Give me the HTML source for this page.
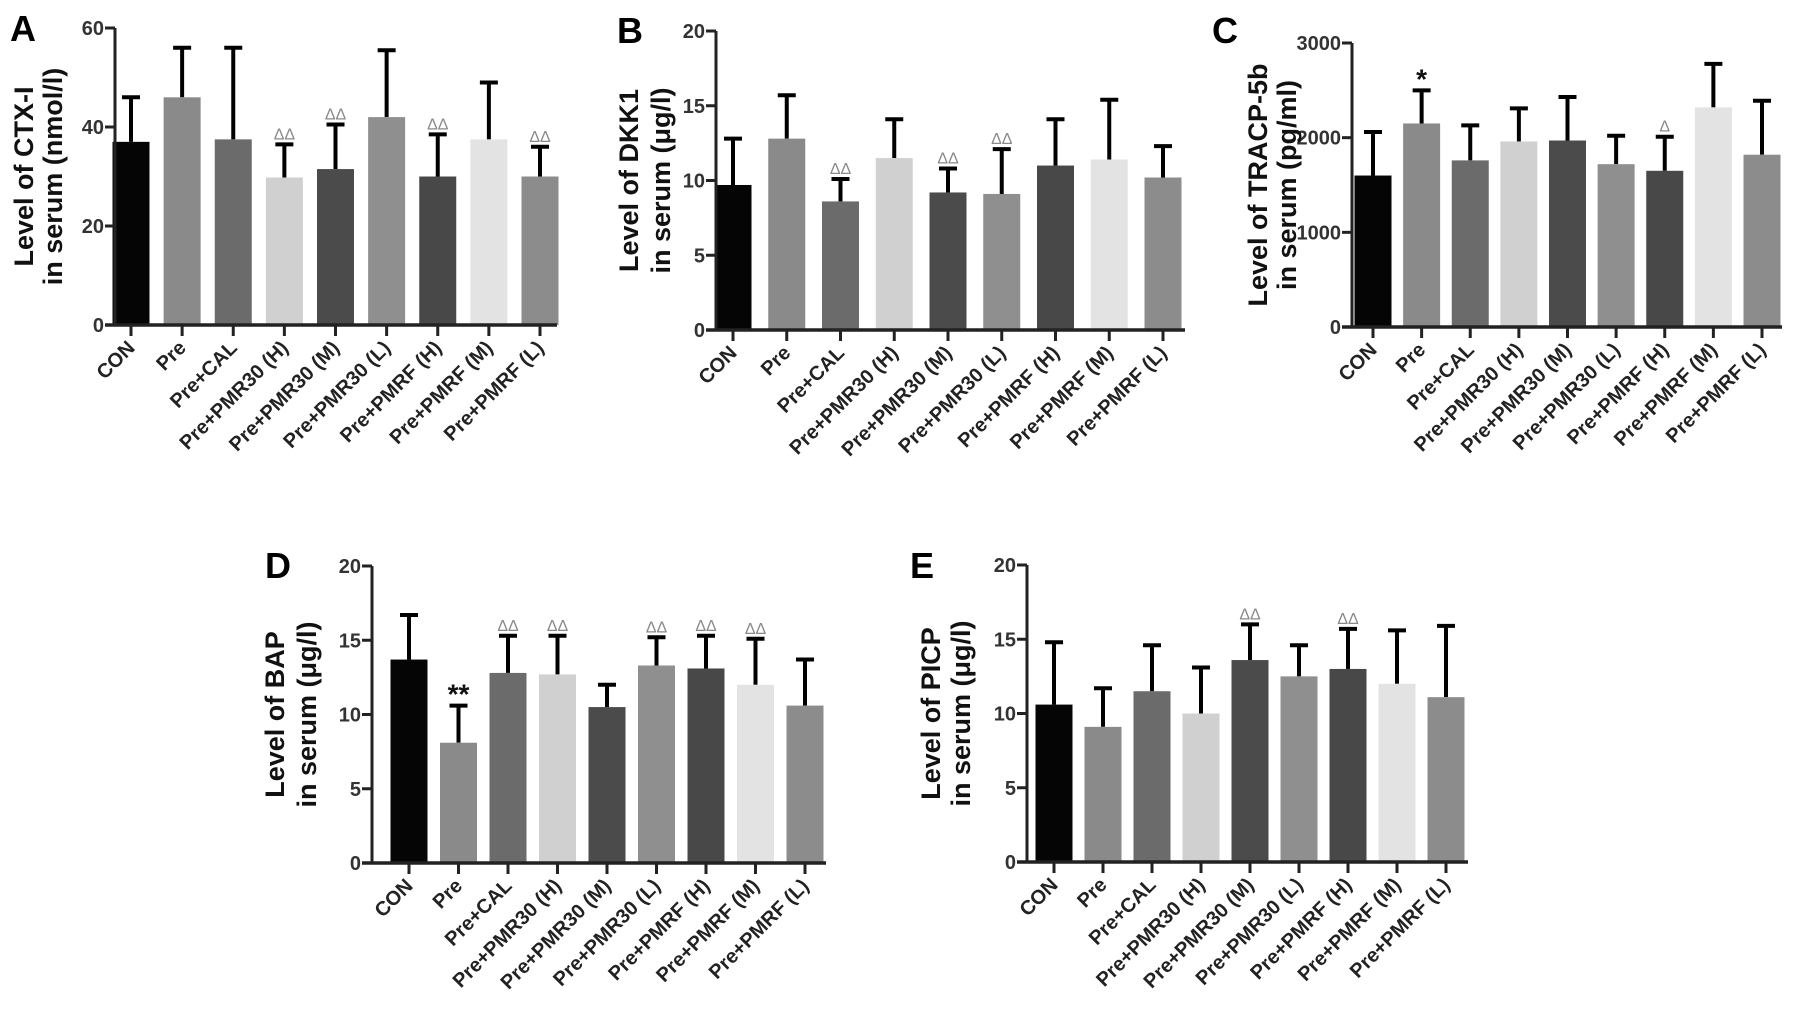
<!DOCTYPE html>
<html><head><meta charset="utf-8"><style>
html,body{margin:0;padding:0;background:#fff;}
svg{display:block;font-family:"Liberation Sans",Arial,sans-serif;font-weight:bold;}
</style></head><body>
<svg id="fig" width="1795" height="1012" viewBox="0 0 1795 1012" xmlns="http://www.w3.org/2000/svg"></svg>
<script>
const categories = ["CON","Pre","Pre+CAL","Pre+PMR30 (H)","Pre+PMR30 (M)","Pre+PMR30 (L)","Pre+PMRF (H)","Pre+PMRF (M)","Pre+PMRF  (L)"];
const barColors = ["#050505","#8a8a8a","#6b6b6b","#d0d0d0","#4b4b4b","#8f8f8f","#484848","#e3e3e3","#8c8c8c"];

const ctxMeans = [37,46,37.5,29.8,31.5,42,30,37.5,30];
const ctxErr   = [46,56,56,36.5,40.5,55.5,38.5,49,36];
const ctxMarks = ["","","","ΔΔ","ΔΔ","","ΔΔ","","ΔΔ"];
const ctxTicks = [0,20,40,60];

const dkkMeans = [9.7,12.8,8.6,11.5,9.2,9.1,11,11.4,10.2];
const dkkErr   = [12.8,15.7,10.1,14.1,10.8,12.1,14.1,15.4,12.3];
const dkkMarks = ["","","ΔΔ","","ΔΔ","ΔΔ","","",""];
const dkkTicks = [0,5,10,15,20];

const tracpMeans = [1600,2150,1760,1960,1970,1720,1650,2320,1820];
const tracpErr   = [2060,2500,2130,2310,2430,2020,2010,2780,2390];
const tracpMarks = ["","*","","","","","Δ","",""];
const tracpTicks = [0,1000,2000,3000];

const bapMeans = [13.7,8.1,12.8,12.7,10.5,13.3,13.1,12,10.6];
const bapErr   = [16.7,10.6,15.3,15.3,12,15.2,15.3,15.1,13.7];
const bapMarks = ["","**","ΔΔ","ΔΔ","","ΔΔ","ΔΔ","ΔΔ",""];
const bapTicks = [0,5,10,15,20];

const picpMeans = [10.6,9.1,11.5,10,13.6,12.5,13,12,11.1];
const picpErr   = [14.8,11.7,14.6,13.1,16,14.6,15.7,15.6,15.9];
const picpMarks = ["","","","","ΔΔ","","ΔΔ","",""];
const picpTicks = [0,5,10,15,20];

const NS="http://www.w3.org/2000/svg";
const svg=document.getElementById('fig');
function mk(tag,attrs,parent,text){const e=document.createElementNS(NS,tag);for(const k in attrs)e.setAttribute(k,attrs[k]);if(text!==undefined)e.textContent=text;(parent||svg).appendChild(e);return e;}

function panel(o){
  const g=mk('g',{});
  
  
  const ymax=o.ticks[o.ticks.length-1];
  const yS=v=>o.y0-(v/ymax)*(o.y0-o.yTop);
  const pitch=(o.cLast-o.c0)/(categories.length-1);
  const xS=i=>o.c0+i*pitch;
  const bw=37;
  const L=mk('text',{x:o.lx,y:o.ly,'font-size':36,fill:'#000'},g,o.letter);
  
  
  o.means.forEach((m,i)=>{
    const cx=xS(i);
    const eb=mk('g',{},g);
    
    
    mk('line',{x1:cx,x2:cx,y1:yS(m),y2:yS(o.err[i]),stroke:'#000','stroke-width':4},eb);
    mk('line',{x1:cx-9,x2:cx+9,y1:yS(o.err[i]),y2:yS(o.err[i]),stroke:'#000','stroke-width':4},eb);
    const r=mk('rect',{x:cx-bw/2,y:yS(m),width:bw,height:o.y0-yS(m),fill:barColors[i]},g);
    
    
    if(o.marks[i]){
      const star=o.marks[i].indexOf('*')>=0;
      const t=mk('text',{x:cx,y:yS(o.err[i])-(star?2:5),'text-anchor':'middle','font-size':star?28:16,fill:star?'#111':'#8a8a8a','font-weight':star?'bold':'normal'},g,o.marks[i]);
      
      
    }
    mk('line',{x1:cx,x2:cx,y1:o.y0,y2:o.y0+11,stroke:'#222','stroke-width':3},g);
    const xl=mk('text',{x:0,y:0,'text-anchor':'end','font-size':20,fill:'#222',transform:`translate(${cx+5},${o.y0+24}) rotate(-45)`},g,categories[i]);
    
    
  });
  const ya=mk('line',{x1:o.ax,x2:o.ax,y1:o.yTop,y2:o.y0+1.5,stroke:'#222','stroke-width':3},g);
  
  
  const xa=mk('line',{x1:o.ax-10,x2:o.xEnd,y1:o.y0,y2:o.y0,stroke:'#222','stroke-width':3.5},g);
  
  
  o.ticks.forEach(t=>{
    mk('line',{x1:o.ax-10,x2:o.ax,y1:yS(t),y2:yS(t),stroke:'#222','stroke-width':3},g);
    const tl=mk('text',{x:o.ax-11,y:yS(t)+7,'text-anchor':'end','font-size':20,fill:'#333'},g,String(t));
    
    
  });
  const cy=(o.y0+o.yTop)/2;
  const t1=mk('text',{x:0,y:0,'text-anchor':'middle','font-size':27,fill:'#111',transform:`translate(${o.t1x+10},${cy}) rotate(-90)`},g,o.title1);
  
  
  const t2=mk('text',{x:0,y:0,'text-anchor':'middle','font-size':27,fill:'#111',transform:`translate(${o.t2x+10},${cy}) rotate(-90)`},g,o.title2);
  
  
}

panel({letter:'A',lx:10,ly:41,ax:115,y0:325,yTop:28,c0:131,cLast:540,xEnd:557,t1x:23,t2x:52,ticks:ctxTicks,means:ctxMeans,err:ctxErr,marks:ctxMarks,title1:'Level of CTX-I',title2:'in serum (nmol/l)'});
panel({letter:'B',lx:617,ly:43,ax:716,y0:330,yTop:31,c0:733,cLast:1163,xEnd:1185,t1x:628,t2x:660,ticks:dkkTicks,means:dkkMeans,err:dkkErr,marks:dkkMarks,title1:'Level of DKK1',title2:'in serum (μg/l)'});
panel({letter:'C',lx:1212,ly:43,ax:1352,y0:327,yTop:43,c0:1373,cLast:1762,xEnd:1782,t1x:1257,t2x:1286,ticks:tracpTicks,means:tracpMeans,err:tracpErr,marks:tracpMarks,title1:'Level of TRACP-5b',title2:'in serum (pg/ml)'});
panel({letter:'D',lx:265,ly:578,ax:372,y0:863,yTop:566,c0:409,cLast:805,xEnd:826,t1x:274,t2x:306,ticks:bapTicks,means:bapMeans,err:bapErr,marks:bapMarks,title1:'Level of BAP',title2:'in serum (μg/l)'});
panel({letter:'E',lx:910,ly:578,ax:1027,y0:862,yTop:565,c0:1054,cLast:1446,xEnd:1468,t1x:930,t2x:960,ticks:picpTicks,means:picpMeans,err:picpErr,marks:picpMarks,title1:'Level of PICP',title2:'in serum (μg/l)'});
</script>
</body></html>
